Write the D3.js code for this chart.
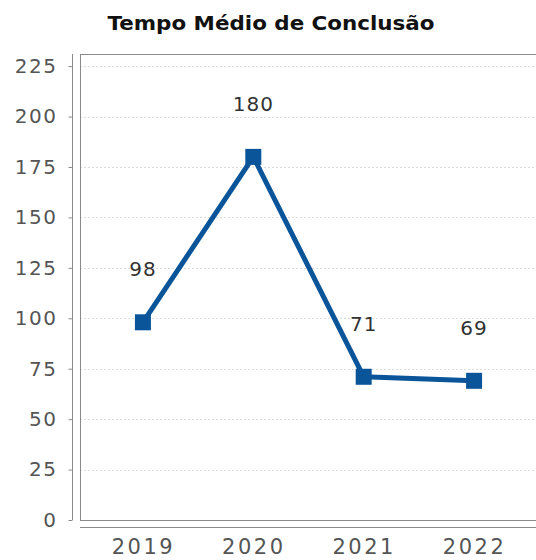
<!DOCTYPE html>
<html>
<head>
<meta charset="utf-8">
<script src="https://cdn.jsdelivr.net/npm/d3@7"></script>
<style>
  body { margin: 0; background: #fff; }
  svg { display: block; }
</style>
</head>
<body>
<div id="chart"></div>
<script>
const title = "Tempo Médio de Conclusão";
const years = ["2019", "2020", "2021", "2022"];
const values = [98, 180, 71, 69];
const yTicks = [0, 25, 50, 75, 100, 125, 150, 175, 200, 225];

const width = 536, height = 560;
const plot = { left: 80, top: 54, right: 540, bottom: 520 };
const lineColor = "#0a5499";
const font = "'DejaVu Sans', sans-serif";

const svg = d3.select("#chart")
  .append("svg")
  .attr("width", width)
  .attr("height", height);

const x = d3.scalePoint()
  .domain(years)
  .range([plot.left, 537])
  .padding(0.57);

const y = d3.scaleLinear()
  .domain([0, 231])
  .range([plot.bottom, plot.top]);

// title
svg.append("text")
  .attr("x", 271)
  .attr("y", 30)
  .attr("text-anchor", "middle")
  .attr("font-family", font)
  .attr("font-weight", "bold")
  .attr("font-size", 20)
  .attr("textLength", 327)
  .attr("lengthAdjust", "spacingAndGlyphs")
  .attr("fill", "#111")
  .text(title);

// gridlines
svg.append("g")
  .selectAll("line")
  .data(yTicks.filter(d => d > 0))
  .join("line")
  .attr("x1", plot.left)
  .attr("x2", plot.right)
  .attr("y1", d => Math.round(y(d)) + 0.5)
  .attr("y2", d => Math.round(y(d)) + 0.5)
  .attr("stroke", "#dcdcdc")
  .attr("stroke-width", 1)
  .attr("stroke-dasharray", "2,2");

// plot outline
svg.append("rect")
  .attr("x", plot.left + 0.5)
  .attr("y", plot.top + 0.5)
  .attr("width", plot.right - plot.left)
  .attr("height", plot.bottom - plot.top)
  .attr("fill", "none")
  .attr("stroke", "#8a8a8a");

// y axis
const yAxis = svg.append("g")
  .attr("transform", "translate(72.5,0)")
  .call(d3.axisLeft(y).tickValues(yTicks).tickSize(4).tickPadding(11).tickSizeOuter(0));
yAxis.select(".domain").attr("stroke", "#8a8a8a").attr("d", `M0,${plot.top}V${plot.bottom}`);
yAxis.selectAll(".tick line").attr("stroke", "#8a8a8a");
yAxis.selectAll("text")
  .attr("font-family", font)
  .attr("font-size", 20)
  .attr("letter-spacing", 1.5)
  .attr("fill", "#555");

// x axis
const xAxis = svg.append("g")
  .attr("transform", "translate(0,527.5)")
  .call(d3.axisBottom(x).tickSize(0).tickPadding(12).tickSizeOuter(0));
xAxis.select(".domain").attr("stroke", "#8a8a8a").attr("d", `M${plot.left},0H${plot.right}`);
xAxis.selectAll("text")
  .attr("font-family", font)
  .attr("font-size", 21)
  .attr("letter-spacing", 2.5)
  .attr("fill", "#555");

// line
const line = d3.line()
  .x((d, i) => x(years[i]))
  .y(d => y(d));

svg.append("path")
  .datum(values)
  .attr("d", line)
  .attr("fill", "none")
  .attr("stroke", lineColor)
  .attr("stroke-width", 5)
  .attr("stroke-linejoin", "round");

// markers
svg.append("g")
  .selectAll("rect")
  .data(values)
  .join("rect")
  .attr("x", (d, i) => x(years[i]) - 8)
  .attr("y", d => y(d) - 8)
  .attr("width", 16)
  .attr("height", 16)
  .attr("fill", lineColor);

// value labels
svg.append("g")
  .selectAll("text")
  .data(values)
  .join("text")
  .attr("x", (d, i) => x(years[i]))
  .attr("y", d => y(d) - 46)
  .attr("text-anchor", "middle")
  .attr("font-family", font)
  .attr("font-size", 20)
  .attr("letter-spacing", 1)
  .attr("fill", "#333")
  .text(d => d);
</script>
</body>
</html>
